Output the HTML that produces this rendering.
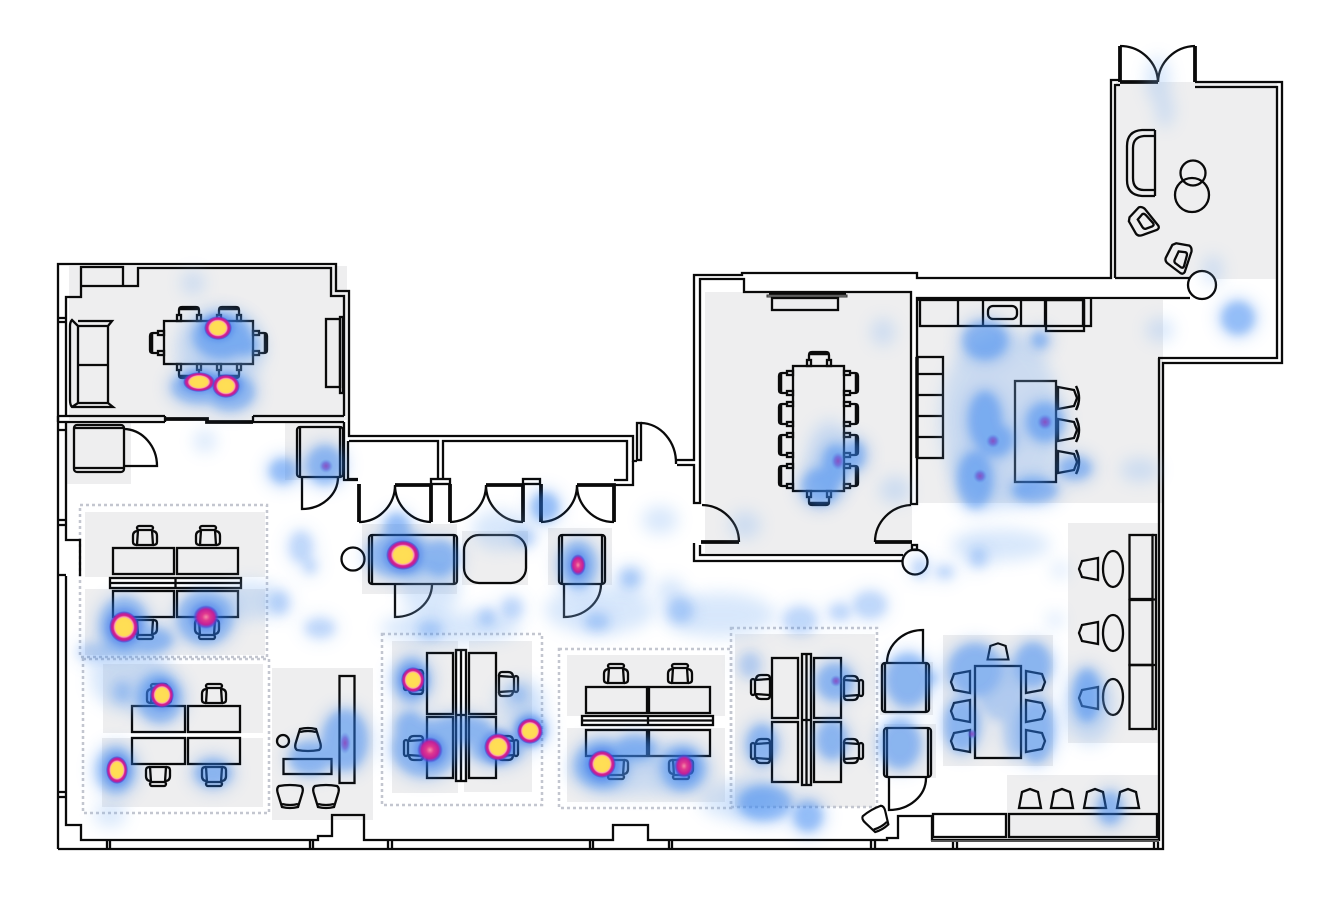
<!DOCTYPE html>
<html><head><meta charset="utf-8"><style>
html,body{margin:0;padding:0;background:#fff}
svg{display:block}
.w{fill:none;stroke:#0a0a0a;stroke-width:2.3}
.t{fill:none;stroke:#0a0a0a;stroke-width:3.8}
.f{fill:none;stroke:#0a0a0a;stroke-width:2.3}
.d{fill:none;stroke:#c3c6cf;stroke-width:2.5;stroke-dasharray:3 3}
.g{fill:#eeeeef}
</style></head><body>
<svg width="1328" height="924" viewBox="0 0 1328 924" xmlns="http://www.w3.org/2000/svg">
<defs>
<g id="oc" fill="none" stroke="#0a0a0a" stroke-width="2.3">
<rect x="-8" y="-10" width="16" height="4" rx="2"/>
<path d="M-7,-6 L-8,9 H8 L7,-6"/>
<path d="M-7,-5 Q-12,-5 -12,0 V6 Q-12,9 -8,9"/>
<path d="M7,-5 Q12,-5 12,0 V6 Q12,9 8,9"/>
</g>
<g id="sc" fill="none" stroke="#0a0a0a" stroke-width="2.3">
<path d="M-10,1 V-4 Q-10,-7 -7,-7 H7 Q10,-7 10,-4 V1"/>
<path d="M-9,-5 H9" stroke-width="2.5"/>
<rect x="-12" y="1" width="4" height="6"/>
<rect x="8" y="1" width="4" height="6"/>
</g>
<path id="tc" d="M-11,10 L-8,-6 L0,-9 L8,-6 L11,10 Z" fill="none" stroke="#0a0a0a" stroke-width="2.3"/>
<g id="lc" fill="none" stroke="#0a0a0a" stroke-width="2.3">
<path d="M-11,-11 Q0,-13 11,-11 Q14,-9 12,-3 L8,10 Q0,12 -8,10 L-12,-3 Q-14,-9 -11,-11 Z"/>
<path d="M-8,7 Q0,9 8,7"/>
</g>
<g id="ac" fill="none" stroke="#0a0a0a" stroke-width="2.3">
<path d="M-14,-6 L-4,-15 Q-1,-16 2,-13 L14,5 Q15,8 12,9 L-3,13 Q-7,14 -9,11 L-15,-2 Z"/>
<path d="M-6,-3 L-1,-8 Q1,-9 3,-6 L9,2 Q10,4 8,5 L1,7 Q-1,7 -2,5 Z"/>
</g>
<filter id="b1" x="-5%" y="-5%" width="110%" height="110%"><feGaussianBlur stdDeviation="4.500"/></filter>
<filter id="b2" x="-5%" y="-5%" width="110%" height="110%"><feGaussianBlur stdDeviation="8"/></filter>
<filter id="b3" x="-5%" y="-5%" width="110%" height="110%"><feGaussianBlur stdDeviation="3"/></filter>
<radialGradient id="hot"><stop offset="0" stop-color="#ffdf55"/><stop offset=".55" stop-color="#ffdc55"/><stop offset=".63" stop-color="#f9a0b8"/><stop offset=".72" stop-color="#d8208a"/><stop offset=".84" stop-color="#b8209c"/><stop offset=".94" stop-color="#5040d0" stop-opacity=".6"/><stop offset="1" stop-color="#3a70e0" stop-opacity="0"/></radialGradient>
<radialGradient id="mid"><stop offset="0" stop-color="#f58aa8"/><stop offset=".3" stop-color="#e0388f"/><stop offset=".65" stop-color="#c0209a"/><stop offset=".85" stop-color="#5a40d0" stop-opacity=".7"/><stop offset="1" stop-color="#3a70e0" stop-opacity="0"/></radialGradient>
<radialGradient id="weak"><stop offset="0" stop-color="#8a40b8" stop-opacity=".85"/><stop offset=".5" stop-color="#6a50d0" stop-opacity=".6"/><stop offset="1" stop-color="#4a80e8" stop-opacity="0"/></radialGradient>
<g id="blobs">
<ellipse cx="222" cy="336" rx="26" ry="20"/><ellipse cx="245" cy="345" rx="10" ry="8"/>
<ellipse cx="200" cy="387" rx="26" ry="14"/><ellipse cx="230" cy="392" rx="22" ry="16"/>
<ellipse cx="283" cy="471" rx="11" ry="10"/><ellipse cx="325" cy="465" rx="16" ry="17"/>
<ellipse cx="400" cy="555" rx="30" ry="20"/><ellipse cx="397" cy="528" rx="10" ry="12"/><ellipse cx="440" cy="558" rx="16" ry="15"/>
<ellipse cx="545" cy="507" rx="11" ry="12"/><ellipse cx="578" cy="565" rx="16" ry="21"/>
<g opacity=".55">
<ellipse cx="525" cy="538" rx="7" ry="6"/>
<ellipse cx="301" cy="547" rx="9" ry="13"/><ellipse cx="310" cy="566" rx="4" ry="5"/>
<ellipse cx="280" cy="603" rx="7" ry="9"/><ellipse cx="320" cy="628" rx="12" ry="7"/><ellipse cx="512" cy="608" rx="8" ry="8"/>
<ellipse cx="487" cy="617" rx="6" ry="6"/><ellipse cx="430" cy="630" rx="9" ry="6"/><ellipse cx="630" cy="578" rx="7" ry="6"/>
<ellipse cx="680" cy="610" rx="10" ry="10"/><ellipse cx="800" cy="620" rx="14" ry="11"/><ellipse cx="870" cy="605" rx="14" ry="11"/>
<ellipse cx="840" cy="612" rx="8" ry="6"/><ellipse cx="920" cy="568" rx="5" ry="7"/><ellipse cx="978" cy="558" rx="6" ry="7"/>
<ellipse cx="945" cy="572" rx="6" ry="4"/><ellipse cx="597" cy="622" rx="9" ry="6"/>
<ellipse cx="95" cy="652" rx="14" ry="7"/>
<ellipse cx="122" cy="692" rx="6" ry="8"/>
<ellipse cx="518" cy="694" rx="6" ry="6"/>
<ellipse cx="750" cy="665" rx="8" ry="10"/>
<ellipse cx="1002" cy="690" rx="20" ry="28"/>
<ellipse cx="1015" cy="725" rx="9" ry="30"/>
</g>
<ellipse cx="124" cy="626" rx="22" ry="26"/><ellipse cx="150" cy="640" rx="20" ry="10"/><ellipse cx="205" cy="618" rx="25" ry="24"/>
<ellipse cx="160" cy="698" rx="20" ry="22"/>
<ellipse cx="116" cy="770" rx="17" ry="21"/><ellipse cx="213" cy="773" rx="16" ry="12"/>
<ellipse cx="345" cy="740" rx="20" ry="28"/><ellipse cx="310" cy="758" rx="18" ry="14"/>
<ellipse cx="412" cy="680" rx="16" ry="20"/><ellipse cx="425" cy="748" rx="30" ry="26"/><ellipse cx="410" cy="728" rx="12" ry="14"/>
<ellipse cx="460" cy="730" rx="30" ry="12"/><ellipse cx="497" cy="748" rx="24" ry="14"/><ellipse cx="530" cy="730" rx="14" ry="14"/>
<ellipse cx="602" cy="764" rx="24" ry="22"/><ellipse cx="635" cy="748" rx="18" ry="10"/><ellipse cx="683" cy="768" rx="19" ry="20"/>
<ellipse cx="835" cy="682" rx="16" ry="16"/><ellipse cx="908" cy="680" rx="20" ry="24"/><ellipse cx="762" cy="745" rx="13" ry="18"/>
<ellipse cx="832" cy="740" rx="13" ry="17"/><ellipse cx="900" cy="744" rx="18" ry="22"/>
<ellipse cx="765" cy="803" rx="24" ry="15"/><ellipse cx="808" cy="816" rx="12" ry="13"/>
<ellipse cx="975" cy="670" rx="24" ry="24"/><ellipse cx="1033" cy="665" rx="16" ry="20"/><ellipse cx="1036" cy="730" rx="16" ry="30"/>
<ellipse cx="962" cy="725" rx="15" ry="25"/>
<ellipse cx="1087" cy="695" rx="11" ry="24"/><ellipse cx="920" cy="678" rx="14" ry="6"/>
<ellipse cx="985" cy="340" rx="20" ry="17"/><ellipse cx="1040" cy="340" rx="6" ry="6"/><ellipse cx="985" cy="420" rx="14" ry="26"/>
<ellipse cx="995" cy="440" rx="16" ry="14"/><ellipse cx="975" cy="480" rx="15" ry="26"/><ellipse cx="1045" cy="422" rx="16" ry="17"/>
<ellipse cx="1035" cy="490" rx="20" ry="10"/><ellipse cx="1075" cy="468" rx="14" ry="9"/>
<ellipse cx="1238" cy="318" rx="14" ry="14"/><ellipse cx="1110" cy="808" rx="10" ry="14"/>
<ellipse cx="835" cy="465" rx="10" ry="18"/><ellipse cx="820" cy="487" rx="16" ry="16"/><ellipse cx="855" cy="455" rx="8" ry="12"/>
</g>
</defs>
<rect width="1328" height="924" fill="#fff"/>

<!-- grey areas -->
<g class="g">
<rect x="69" y="266" width="278" height="154"/>
<rect x="67" y="422" width="64" height="62"/>
<rect x="285" y="422" width="59" height="58"/>
<rect x="85" y="512" width="180" height="65"/>
<rect x="85" y="589" width="180" height="66"/>
<rect x="103" y="664" width="160" height="69"/>
<rect x="102" y="738" width="161" height="69"/>
<rect x="272" y="668" width="101" height="152"/>
<rect x="362" y="524" width="95" height="70"/>
<rect x="462" y="531" width="66" height="54"/>
<rect x="548" y="528" width="64" height="57"/>
<rect x="392" y="641" width="66" height="152"/>
<rect x="469" y="641" width="63" height="75"/>
<rect x="464" y="716" width="68" height="76"/>
<rect x="567" y="655" width="158" height="61"/>
<rect x="567" y="728" width="158" height="74"/>
<rect x="735" y="634" width="140" height="173"/>
<rect x="880" y="662" width="53" height="53"/>
<rect x="884" y="724" width="52" height="54"/>
<rect x="943" y="635" width="110" height="131"/>
<rect x="1068" y="523" width="91" height="220"/>
<rect x="1007" y="775" width="152" height="65"/>
<rect x="705" y="292" width="207" height="261"/>
<rect x="1116" y="82" width="161" height="197"/>
<rect x="917" y="300" width="246" height="203"/>
</g>

<!-- dashed groups -->
<rect class="d" x="80" y="505" width="187" height="152"/>
<rect class="d" x="83" y="659" width="186" height="154"/>
<rect class="d" x="382" y="634" width="160" height="171"/>
<rect class="d" x="559" y="649" width="172" height="159"/>
<rect class="d" x="731" y="628" width="146" height="179"/>

<!-- walls -->
<path class="w" d="M58,849 V264 H336 V291 H349 V436 H633 V461 H637"/>
<path class="w" d="M66,416 V297 H81 V267 H123 V286 H81 M123,286 H138 V268 H331 V296 H344 V416 M66,422 V484 M66,576 V825 H81 V840 H318 V836 H332 V815 H364 V840 H613 V825 H648 V840 H887 V838 H898 V816 H932 V840 H1159 V358 M66,422 V540 H80 V576"/>
<path class="w" d="M58,849 H1163 V363 H1282 V82 H1195 M1158,358 H1277 V87 H1195 M1120,80 H1111 V278 H917 V273 H742 V275 H694 V460 H677 M677,465 H694 V503 H700 V279 H744 V292 H911 V504 H917 V298 H1190 M1115,278 V85 H1120 M1115,278 H1190"/>
<path class="w" d="M58,416 H165 M58,422 H165 M58,416 V422 M253,416 H344 M253,422 H344 M165,416 V422 M253,416 V422 M344,422 V480 H358 M348,441 V479 H358 M349,441 H438 V480 M443,480 V441 H627 V480 H614 M633,461 V485 H614"/>
<path class="t" d="M165,419 H207 V422 H253"/>
<rect class="w" x="431" y="479" width="19" height="5"/>
<rect class="w" x="523" y="479" width="17" height="5"/>
<path d="M58,318 H66 M58,322 H66 M58,430 H66 M58,520 H66 M58,525 H66 M58,575 H66 M58,792 H66 M58,797 H66 M107,840 V849 M110,840 V849 M310,840 V849 M313,840 V849 M388,840 V849 M392,840 V849 M590,840 V849 M593,840 V849 M669,840 V849 M672,840 V849 M871,840 V849 M875,840 V849 M953,842 V849 M957,842 V849 M1154,842 V849 M1158,842 V849" class="w"/>

<!-- doors -->
<path class="t" d="M359,484 V522 M395,485 H431 V522 M450,484 V522 M486,485 H523 V522 M541,484 V522 M577,485 H614 V522"/>
<path class="w" d="M359,522 H361 A37,37 0 0 0 395,485 A37,37 0 0 0 431,522 M450,522 A37,37 0 0 0 486,485 A37,37 0 0 0 523,522 M541,522 A37,37 0 0 0 577,485 A37,37 0 0 0 614,522"/>
<rect class="w" x="637" y="423" width="4" height="37"/>
<path class="w" d="M641,423 A36,40 0 0 1 676,464 V460"/>
<path class="w" d="M702,505 A38,37 0 0 1 739,542"/>
<path class="t" d="M701,542 H739 M875,542 H912"/>
<path class="w" d="M911,505 A38,37 0 0 0 875,542"/>
<path class="w" d="M694,543 V561 H903 M700,545 V555 H903"/>
<circle cx="915" cy="562" r="12.5" fill="#fff" stroke="#0a0a0a" stroke-width="2.3"/>
<rect class="w" x="912" y="545" width="5" height="5"/>
<path class="t" d="M1120,82 V46 M1195,82 V46 M1120,82 H1158"/>
<path class="w" d="M1120,46 A38,37 0 0 1 1158,82 A38,37 0 0 1 1195,46"/>
<circle cx="1202" cy="285" r="14" fill="#fff" stroke="#0a0a0a" stroke-width="2.3"/>

<!-- room 1 -->
<rect class="f" x="164" y="321" width="89" height="43"/>
<use href="#sc" x="189" y="314"/><use href="#sc" x="229" y="314"/>
<use href="#sc" transform="translate(189,371) rotate(180)"/><use href="#sc" transform="translate(229,371) rotate(180)"/>
<use href="#sc" transform="translate(157,343) rotate(-90)"/><use href="#sc" transform="translate(260,343) rotate(90)"/>
<path class="f" d="M78,321 H112 L108,326 V403 L113,407 H78 L72,407 Q70,405 70,400 V326 Q70,322 72,320 L78,326 V403 L72,407 M78,326 H108 M78,403 H108 M78,365 H108"/>
<rect class="f" x="326" y="319" width="14" height="68"/>
<rect class="f" x="340" y="317" width="3" height="76"/>
<rect class="f" x="74" y="425" width="50" height="47" rx="3"/>
<path class="w" d="M75,428 H123 M75,468 H123"/>
<path class="w" d="M125,429 A34,37 0 0 1 157,466 H124"/>
<rect class="f" x="297" y="427" width="46" height="50" rx="3"/>
<path class="f" d="M300,428 V476 M340,428 V476"/>
<path class="w" d="M302,477 V509 A36,32 0 0 0 338,477"/>

<!-- group 1 -->
<g class="f">
<rect x="113" y="548" width="61" height="26"/><rect x="177" y="548" width="61" height="26"/>
<rect x="113" y="591" width="61" height="26"/><rect x="177" y="591" width="61" height="26"/>
<rect x="110" y="578" width="131" height="10"/><path d="M110,583 H241 M175.500,578 V588"/>
</g>
<use href="#oc" x="145" y="536"/><use href="#oc" x="208" y="536"/>
<use href="#oc" transform="translate(145,629) rotate(180)"/><use href="#oc" transform="translate(207,629) rotate(180)"/>
<!-- group 2 -->
<g class="f">
<rect x="132" y="706" width="53" height="26"/><rect x="188" y="706" width="52" height="26"/>
<rect x="132" y="738" width="53" height="26"/><rect x="188" y="738" width="52" height="26"/>
</g>
<use href="#oc" x="159" y="694"/><use href="#oc" x="214" y="694"/>
<use href="#oc" transform="translate(158,776) rotate(180)"/><use href="#oc" transform="translate(214,776) rotate(180)"/>
<!-- lounge -->
<circle class="f" cx="283" cy="741" r="6"/>
<rect class="f" x="283.500" y="759" width="48" height="15"/>
<rect class="f" x="339.500" y="676" width="15" height="107"/>
<use href="#lc" transform="translate(308,739) rotate(180)"/>
<use href="#lc" x="290" y="797"/><use href="#lc" x="326" y="797"/>

<!-- centre furniture -->
<circle class="f" cx="353" cy="559" r="11.500"/>
<rect class="f" x="369" y="535" width="88" height="49" rx="3"/>
<path class="f" d="M372,536 V583 M454,536 V583"/>
<path class="w" d="M395,585 V617 A37,33 0 0 0 432,585"/>
<rect class="f" x="464" y="535" width="62" height="48" rx="15"/>
<rect class="f" x="559" y="535" width="46" height="49" rx="3"/>
<path class="f" d="M562,536 V583 M602,536 V583"/>
<path class="w" d="M564,585 V617 A37,33 0 0 0 601,585"/>

<!-- group 3 -->
<g class="f">
<rect x="427" y="653" width="26" height="61"/><rect x="469" y="653" width="27" height="61"/>
<rect x="427" y="717" width="26" height="61"/><rect x="469" y="717" width="27" height="61"/>
<rect x="456" y="650" width="10" height="131"/><path d="M461,650 V781 M456,715 H466"/>
</g>
<use href="#oc" transform="translate(414,682) rotate(-90)"/><use href="#oc" transform="translate(508,684) rotate(90)"/>
<use href="#oc" transform="translate(414,748) rotate(-90)"/><use href="#oc" transform="translate(508,748) rotate(90)"/>
<!-- group 4 -->
<g class="f">
<rect x="586" y="687" width="61" height="26"/><rect x="649" y="687" width="61" height="26"/>
<rect x="586" y="730" width="61" height="26"/><rect x="649" y="730" width="61" height="26"/>
<rect x="582" y="716" width="131" height="9"/><path d="M582,720.500 H713 M648,716 V725"/>
</g>
<use href="#oc" x="616" y="674"/><use href="#oc" x="680" y="674"/>
<use href="#oc" transform="translate(616,769) rotate(180)"/><use href="#oc" transform="translate(681,769) rotate(180)"/>
<!-- group 5 -->
<g class="f">
<rect x="772" y="658" width="26" height="60"/><rect x="814" y="658" width="27" height="60"/>
<rect x="772" y="722" width="26" height="60"/><rect x="814" y="722" width="27" height="60"/>
<rect x="802" y="654" width="9" height="131"/><path d="M806.500,654 V785 M802,720 H811"/>
</g>
<use href="#oc" transform="translate(761,687) rotate(-90)"/><use href="#oc" transform="translate(853,688) rotate(90)"/>
<use href="#oc" transform="translate(761,751) rotate(-90)"/><use href="#oc" transform="translate(853,751) rotate(90)"/>

<!-- right sofas -->
<rect class="f" x="882" y="663" width="47" height="49" rx="3"/>
<path class="f" d="M885,664 V711 M926,664 V711"/>
<path class="w" d="M923,663 V630 A36,33 0 0 0 887,663"/>
<rect class="f" x="884" y="728" width="47" height="49" rx="3"/>
<path class="f" d="M887,729 V776 M928,729 V776"/>
<path class="w" d="M889,778 V810 A37,32 0 0 0 926,778"/>
<use href="#lc" transform="translate(877,820) rotate(-30) scale(.95)"/>
<rect class="f" x="933" y="814" width="73" height="23"/>
<rect class="f" x="1009" y="814" width="148" height="23"/>
<path d="M931,841 H1159" stroke="#555" stroke-width="2" fill="none"/>

<!-- meeting 2 -->
<rect class="f" x="975" y="666" width="46" height="92"/>
<use href="#tc" transform="translate(998,651) scale(.95,.85)"/>
<use href="#tc" transform="translate(960,682) rotate(-90)"/><use href="#tc" transform="translate(960,711) rotate(-90)"/><use href="#tc" transform="translate(960,741) rotate(-90)"/>
<use href="#tc" transform="translate(1036,682) rotate(90)"/><use href="#tc" transform="translate(1036,711) rotate(90)"/><use href="#tc" transform="translate(1036,741) rotate(90)"/>
<!-- bench -->
<rect class="f" x="1129.500" y="535" width="23" height="64"/><rect class="f" x="1129.500" y="600" width="23" height="65"/><rect class="f" x="1129.500" y="665" width="23" height="64"/>
<path class="f" d="M1152,535 H1156 V729 H1152 M1129,599.500 H1156 M1129,665 H1156" />
<ellipse class="f" cx="1113" cy="569" rx="10" ry="18"/><ellipse class="f" cx="1113" cy="633" rx="10" ry="18"/><ellipse class="f" cx="1113" cy="697" rx="10" ry="18"/>
<use href="#tc" transform="translate(1088,569) rotate(-90)"/><use href="#tc" transform="translate(1088,633) rotate(-90)"/><use href="#tc" transform="translate(1088,698) rotate(-90)"/>
<use href="#tc" x="1030" y="798"/><use href="#tc" x="1062" y="798"/><use href="#tc" x="1095" y="798"/><use href="#tc" x="1128" y="798"/>

<!-- kitchen -->
<rect class="f" x="920" y="300" width="163" height="26"/>
<path class="f" d="M958,300 V326 M983,300 V326 M1021,300 V326 M1045,300 V326"/>
<rect class="f" x="988" y="306" width="29" height="13" rx="5"/>
<rect class="f" x="1046" y="300" width="38" height="31"/>
<path class="f" d="M1084,300 V326 H1091 V299"/>
<path class="t" d="M917,299 H1085" stroke-width="2.500"/>
<rect class="f" x="917" y="357" width="26" height="101"/>
<path class="f" d="M917,374 H943 M917,395 H943 M917,416 H943 M917,437 H943"/>
<path d="M917,357 V458" stroke="#0a0a0a" stroke-width="3.500"/>
<rect class="f" x="1015" y="381" width="41" height="101"/>
<g>
<use href="#tc" transform="translate(1068,398) rotate(90)"/><use href="#tc" transform="translate(1068,430) rotate(90)"/><use href="#tc" transform="translate(1068,462) rotate(90)"/>
<path d="M1076,386 Q1082,398 1076,410 M1076,418 Q1082,430 1076,442 M1076,450 Q1082,462 1076,474" fill="none" stroke="#0a0a0a" stroke-width="2.500"/>
</g>

<!-- meeting room -->
<rect x="767" y="295" width="80" height="2" fill="#888" stroke="#333"/>
<rect class="f" x="772" y="298" width="66" height="12"/>
<path d="M769,293.500 H846" stroke="#0a0a0a" stroke-width="2"/>
<rect class="f" x="793" y="366" width="51" height="125"/>
<use href="#sc" x="819" y="359"/>
<use href="#sc" transform="translate(819,498) rotate(180)"/>
<use href="#sc" transform="translate(786,383) rotate(-90)"/><use href="#sc" transform="translate(786,414) rotate(-90)"/><use href="#sc" transform="translate(786,445) rotate(-90)"/><use href="#sc" transform="translate(786,476) rotate(-90)"/>
<use href="#sc" transform="translate(851,383) rotate(90)"/><use href="#sc" transform="translate(851,414) rotate(90)"/><use href="#sc" transform="translate(851,445) rotate(90)"/><use href="#sc" transform="translate(851,476) rotate(90)"/>

<!-- terrace -->
<path class="f" d="M1155,130 V196 M1155,130 H1142 Q1127,131 1127,146 V180 Q1127,195 1142,196 H1155 M1155,136 H1144 Q1133,137 1133,148 V178 Q1133,190 1144,190 H1155"/>
<circle class="f" cx="1193" cy="173" r="12.500"/><circle class="f" cx="1192" cy="195" r="17"/>
<use href="#ac" transform="translate(1144,222) rotate(-5)"/>
<use href="#ac" transform="translate(1180,258) rotate(52)"/>

<!-- heat -->
<g opacity=".3" filter="url(#b2)" fill="#7fb2f3">
<ellipse cx="193" cy="283" rx="12" ry="12"/><ellipse cx="205" cy="441" rx="11" ry="11"/>
<ellipse cx="660" cy="520" rx="18" ry="14"/><ellipse cx="632" cy="578" rx="14" ry="12"/><ellipse cx="670" cy="590" rx="14" ry="12"/>
<ellipse cx="883" cy="332" rx="12" ry="14"/><ellipse cx="745" cy="525" rx="16" ry="14"/><ellipse cx="895" cy="490" rx="16" ry="14"/>
<ellipse cx="1213" cy="270" rx="10" ry="15"/><ellipse cx="1158" cy="80" rx="12" ry="24"/><ellipse cx="1165" cy="110" rx="9" ry="18"/>
<ellipse cx="1060" cy="570" rx="8" ry="8"/><ellipse cx="1055" cy="620" rx="8" ry="8"/><ellipse cx="1160" cy="330" rx="14" ry="12"/>
<ellipse cx="1140" cy="470" rx="20" ry="12"/><ellipse cx="250" cy="600" rx="30" ry="20"/><ellipse cx="110" cy="815" rx="16" ry="12"/>
<ellipse cx="430" cy="590" rx="30" ry="25"/><ellipse cx="500" cy="530" rx="28" ry="20"/><ellipse cx="600" cy="610" rx="55" ry="24"/>
<ellipse cx="450" cy="628" rx="70" ry="16"/><ellipse cx="720" cy="615" rx="55" ry="22"/><ellipse cx="1000" cy="545" rx="50" ry="16"/>
<ellipse cx="740" cy="800" rx="40" ry="20"/><ellipse cx="1000" cy="420" rx="60" ry="90"/><ellipse cx="1090" cy="710" rx="24" ry="36"/>
<ellipse cx="130" cy="680" rx="40" ry="30"/><ellipse cx="520" cy="700" rx="26" ry="20"/><ellipse cx="640" cy="770" rx="70" ry="25"/>
<ellipse cx="830" cy="460" rx="24" ry="40"/><ellipse cx="220" cy="350" rx="45" ry="40"/>
</g>
<g opacity=".2" filter="url(#b2)" fill="#2a7df0" stroke="#2a7df0" stroke-width="16"><use href="#blobs"/></g>
<g opacity=".38" filter="url(#b1)" fill="#2a7df0" stroke="#2a7df0" stroke-width="5"><use href="#blobs"/></g>
<!-- deep halo beneath hot spots -->
<g opacity=".35" filter="url(#b3)" fill="#2a62e6">
<ellipse cx="218" cy="328" rx="16" ry="13"/><ellipse cx="199" cy="382" rx="18" ry="11"/><ellipse cx="226" cy="386" rx="16" ry="13"/>
<ellipse cx="124" cy="627" rx="18" ry="19"/><ellipse cx="206" cy="617" rx="16" ry="15"/><ellipse cx="162" cy="695" rx="14" ry="15"/>
<ellipse cx="117" cy="770" rx="13" ry="16"/><ellipse cx="403" cy="555" rx="20" ry="18"/><ellipse cx="578" cy="565" rx="10" ry="14"/>
<ellipse cx="413" cy="680" rx="14" ry="15"/><ellipse cx="430" cy="750" rx="16" ry="16"/><ellipse cx="498" cy="747" rx="17" ry="17"/>
<ellipse cx="530" cy="731" rx="15" ry="15"/><ellipse cx="602" cy="764" rx="17" ry="17"/><ellipse cx="684" cy="766" rx="12" ry="14"/>
</g>
<!-- weak cores -->
<g>
<ellipse cx="326" cy="466" rx="7" ry="7" fill="url(#weak)"/><ellipse cx="345" cy="743" rx="6" ry="11" fill="url(#weak)"/>
<ellipse cx="838" cy="461" rx="7" ry="9" fill="url(#weak)"/><ellipse cx="993" cy="441" rx="7" ry="7" fill="url(#weak)"/>
<ellipse cx="980" cy="476" rx="7" ry="7" fill="url(#weak)"/><ellipse cx="1045" cy="422" rx="8" ry="8" fill="url(#weak)"/>
<ellipse cx="836" cy="681" rx="6" ry="6" fill="url(#weak)"/><ellipse cx="972" cy="734" rx="5" ry="5" fill="url(#weak)"/>
</g>
<!-- hot spots -->
<g>
<ellipse cx="218" cy="328" rx="14" ry="12" fill="url(#hot)"/>
<ellipse cx="199" cy="382" rx="16" ry="10" fill="url(#hot)"/>
<ellipse cx="226" cy="386" rx="14" ry="12" fill="url(#hot)"/>
<ellipse cx="124" cy="627" rx="15" ry="16" fill="url(#hot)"/>
<ellipse cx="206" cy="617" rx="13" ry="12" fill="url(#mid)"/>
<ellipse cx="162" cy="695" rx="12" ry="13" fill="url(#hot)"/>
<ellipse cx="117" cy="770" rx="11" ry="14" fill="url(#hot)"/>
<ellipse cx="403" cy="555" rx="17" ry="15" fill="url(#hot)"/>
<ellipse cx="578" cy="565" rx="8" ry="11" fill="url(#mid)"/>
<ellipse cx="413" cy="680" rx="12" ry="13" fill="url(#hot)"/>
<ellipse cx="430" cy="750" rx="13" ry="13" fill="url(#mid)"/>
<ellipse cx="498" cy="747" rx="14" ry="14" fill="url(#hot)"/>
<ellipse cx="530" cy="731" rx="13" ry="13" fill="url(#hot)"/>
<ellipse cx="602" cy="764" rx="14" ry="14" fill="url(#hot)"/>
<ellipse cx="684" cy="766" rx="10" ry="12" fill="url(#mid)"/>
</g>
</svg>
</body></html>
